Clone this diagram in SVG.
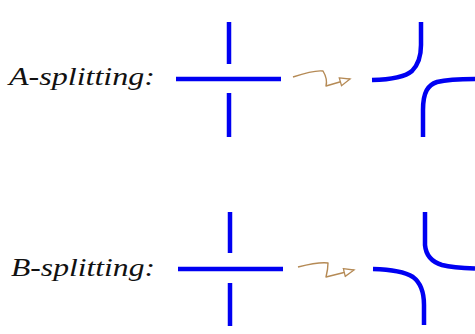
<svg xmlns="http://www.w3.org/2000/svg" width="475" height="334" viewBox="0 0 475 334">
<style>
.lbl{font-family:"Liberation Serif","Times New Roman",serif;font-style:italic;font-size:25px;fill:#111}
.str{fill:none;stroke:#0000f2;stroke-width:4.5;stroke-linecap:butt}
.sq{fill:none;stroke:#b58a55;stroke-width:1.4;stroke-linejoin:round}
</style>
<defs>
<marker id="oh" markerUnits="userSpaceOnUse" markerWidth="14" markerHeight="12" refX="11" refY="5" orient="auto">
<path d="M1,1 L11,5 L1,9 Z" fill="#fff" stroke="#b58a55" stroke-width="1.3"/>
</marker>
</defs>
<rect width="475" height="334" fill="#fff"/>
<g id="labelA"><text class="lbl" x="9" y="85" textLength="146" lengthAdjust="spacingAndGlyphs">A-splitting:</text></g>
<g id="labelB"><text class="lbl" x="11" y="276" textLength="144" lengthAdjust="spacingAndGlyphs">B-splitting:</text></g>
<g id="crossA">
<path class="str" d="M176,79 L281,79"/>
<path class="str" d="M229,22 L229,64"/>
<path class="str" d="M229,93 L229,137"/>
</g>
<g id="crossB">
<path class="str" d="M178,269 L283,269"/>
<path class="str" d="M230,212 L230,253"/>
<path class="str" d="M230,283 L230,326"/>
</g>
<g id="resA">
<path class="str" d="M372,80 C392,79.5 405,77 412,71 C419,64 421,55 421,45 L421,22"/>
<path class="str" d="M423,137 L423,110 C423,92 428,85 437,82 C447,79.5 460,79 475,79"/>
</g>
<g id="resB">
<path class="str" d="M425,212 L425,245 C426,256 432,262 442,265 C452,267.5 462,268 475,268.5"/>
<path class="str" d="M373,269 C392,269.5 405,272 413,277 C421,283 424,292 424,305 L424,325"/>
</g>
<g id="connectors">
<path class="sq" d="M293,77 C305,73 316,70 323,71 C326,76 327,82 326,86 L350,79" marker-end="url(#oh)"/>
<path class="sq" d="M298,267 C310,264 320,262 328,263 C328,268 327,273 326,277 L354,270" marker-end="url(#oh)"/>
</g>
</svg>
